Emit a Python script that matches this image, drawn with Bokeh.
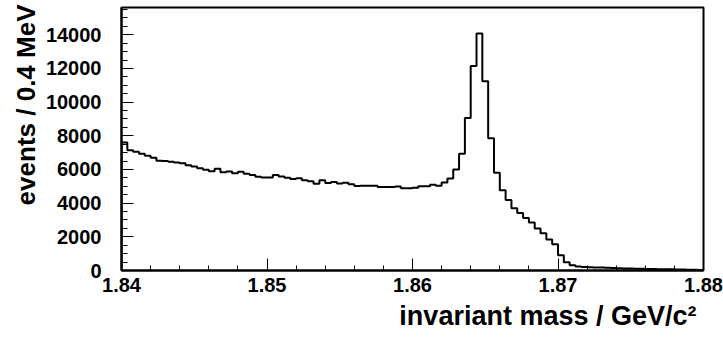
import numpy as np
from bokeh.plotting import figure
from bokeh.models import Range1d, FixedTicker, PrintfTickFormatter, Title
from bokeh.embed import file_html
from bokeh.resources import INLINE

# histogram: 100 bins of 0.4 MeV between 1.84 and 1.88 GeV/c^2
x_min = 1.84
x_max = 1.88
bin_width = 0.0004
counts = [
    7600, 7140, 7060, 6930, 6820, 6690, 6520, 6500, 6460, 6420,
    6370, 6250, 6170, 6070, 5990, 5890, 6050, 5840, 5880, 5780,
    5870, 5740, 5665, 5575, 5526, 5526, 5665, 5585, 5506, 5427,
    5480, 5360, 5300, 5150, 5367, 5190, 5250, 5160, 5210, 5120,
    5020, 5040, 5030, 5030, 4960, 4960, 4960, 4990, 4880, 4880,
    4920, 5000, 5010, 5100, 5030, 5230, 5466, 6000, 6930, 9050,
    12150, 14080, 11240, 7850, 5810, 4760, 4190, 3700, 3420, 3125,
    2850, 2490, 2210, 1835, 1560, 900, 486, 308, 240, 215,
    200, 185, 175, 165, 155, 140, 125, 115, 105, 100,
    90, 85, 80, 75, 70, 60, 55, 45, 40, 35,
]
x_tick_labels = [1.84, 1.85, 1.86, 1.87, 1.88]
y_tick_labels = [0, 2000, 4000, 6000, 8000, 10000, 12000, 14000]
y_max = 15620
x_title = "invariant mass / GeV/c²"
y_title = "events / 0.4 MeV"

FONT = "Liberation Sans"

p = figure(width=723, height=341, output_backend="svg", toolbar_location=None,
           x_range=Range1d(x_min, x_max), y_range=Range1d(0, y_max),
           min_border_left=121, min_border_right=20, min_border_top=7,
           min_border_bottom=71)
p.background_fill_color = "white"
p.border_fill_color = "white"
p.outline_line_color = "black"
p.outline_line_width = 2
p.xgrid.visible = False
p.ygrid.visible = False

edges = x_min + bin_width * np.arange(len(counts) + 1)
xs = np.concatenate([[edges[0]], np.repeat(edges, 2)[1:-1], [edges[-1]]])
ys = np.concatenate([[0], np.repeat(counts, 2), [0]])
p.line(xs, ys, line_color="black", line_width=2)

x_minor = [round(x_min + 0.002 * i, 4) for i in range(21)]
y_minor = [500 * i for i in range(32)]
p.xaxis.ticker = FixedTicker(ticks=x_tick_labels, minor_ticks=x_minor)
p.yaxis.ticker = FixedTicker(ticks=y_tick_labels, minor_ticks=y_minor)
p.xaxis.formatter = PrintfTickFormatter(format="%.2f")
p.yaxis.formatter = PrintfTickFormatter(format="%d")

for ax in (p.xaxis, p.yaxis):
    ax.axis_line_color = "black"
    ax.axis_line_width = 2
    ax.major_tick_in = 12
    ax.major_tick_out = 0
    ax.minor_tick_out = 0
    ax.major_tick_line_color = "black"
    ax.minor_tick_line_color = "black"
    ax.major_tick_line_width = 1
    ax.minor_tick_line_width = 1
    ax.major_label_text_font = FONT
    ax.major_label_text_font_style = "bold"
    ax.major_label_text_font_size = "20px"
    ax.major_label_text_color = "black"
p.xaxis.minor_tick_in = 5
p.yaxis.minor_tick_in = 6
p.xaxis.major_label_standoff = 7
p.yaxis.major_label_standoff = 20

xt = Title(text=x_title, align="right", offset=7, standoff=8,
           text_font=FONT, text_font_style="bold", text_font_size="27px",
           text_color="black")
yt = Title(text=y_title, align="right", offset=-3, standoff=4,
           text_font=FONT, text_font_style="bold", text_font_size="26px",
           text_color="black")
p.add_layout(xt, "below")
p.add_layout(yt, "left")

open("out.html", "w").write(file_html(p, INLINE))
